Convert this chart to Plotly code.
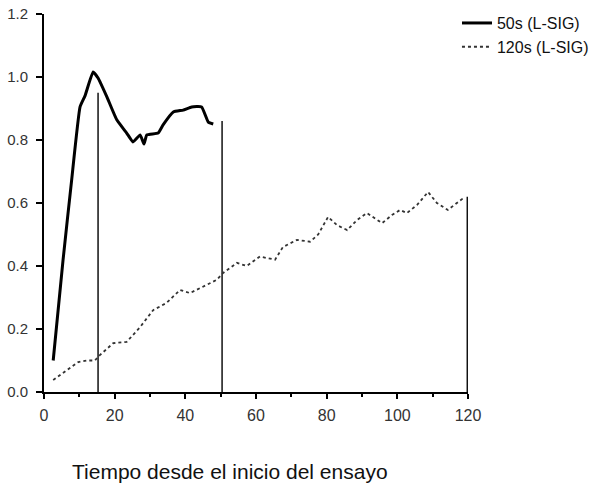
import plotly.graph_objects as go

# 50s (L-SIG) series
t50 = [2.6, 5.4, 7.8, 10.2, 11.6, 13.9, 15.3, 17.8, 20.6, 23.4, 25.2, 27.2, 28.3, 29.1,
       32.3, 33.7, 36.6, 39.4, 41.8, 44.6, 46.5, 47.9]
v50 = [0.10, 0.42, 0.67, 0.905, 0.94, 1.016, 0.997, 0.937, 0.864, 0.822, 0.794, 0.816,
       0.787, 0.816, 0.822, 0.848, 0.889, 0.895, 0.905, 0.905, 0.857, 0.851]

# 120s (L-SIG) series
t120 = [2.6, 6.4, 9.7, 12.1, 14.4, 15.8, 19.6, 23.4, 27.2, 30.9, 34.7, 38.5, 41.3, 44.2,
        48.9, 50.7, 54.6, 57.4, 61.1, 65.4, 67.6, 71.6, 75.3, 77.6, 80.4, 82.9, 85.8,
        88.6, 91.4, 95.7, 98.5, 100.8, 102.7, 105.6, 108.7, 111.2, 114.3, 118.6]
v120 = [0.038, 0.07, 0.095, 0.10, 0.10, 0.117, 0.155, 0.159, 0.206, 0.26, 0.283, 0.324,
        0.314, 0.33, 0.356, 0.378, 0.41, 0.40, 0.43, 0.42, 0.46, 0.483, 0.477, 0.50,
        0.556, 0.53, 0.514, 0.546, 0.568, 0.536, 0.562, 0.578, 0.568, 0.594, 0.635,
        0.60, 0.578, 0.615]

# vertical marker lines
vline_x = [15.3, 50.4, 119.8]
vline_top = [0.95, 0.86, 0.62]

x_ticks = [0, 20, 40, 60, 80, 100, 120]
y_ticks = [0.0, 0.2, 0.4, 0.6, 0.8, 1.0, 1.2]
x_title = "Tiempo desde el inicio del ensayo"

fig = go.Figure()
for xv, top in zip(vline_x, vline_top):
    fig.add_trace(go.Scatter(x=[xv, xv], y=[0, top], mode="lines",
                             line=dict(color="#111", width=1.5), showlegend=False,
                             hoverinfo="skip"))

fig.add_trace(go.Scatter(x=t50, y=v50, mode="lines", name="50s (L-SIG)",
                         line=dict(color="#000", width=3, shape="spline", smoothing=0.4)))
fig.add_trace(go.Scatter(x=t120, y=v120, mode="lines", name="120s (L-SIG)",
                         line=dict(color="#333", width=1.8, dash="dot")))

fig.add_annotation(text=x_title, xref="paper", yref="paper", x=0.4375, y=-0.209,
                   xanchor="center", yanchor="middle", showarrow=False,
                   font=dict(size=21, color="#111"))

fig.update_layout(
    width=589, height=485,
    margin=dict(l=44, r=121, t=14, b=93, autoexpand=False),
    paper_bgcolor="white", plot_bgcolor="white",
    font=dict(family="Liberation Sans, Arial, sans-serif", color="#222", size=12),
    legend=dict(x=0.974, xanchor="left", y=1.021, yanchor="top",
                bgcolor="rgba(0,0,0,0)", font=dict(size=16, color="#111"),
                tracegroupgap=0, itemwidth=30),
    xaxis=dict(range=[0, 120], tickvals=x_ticks, ticktext=[str(v) for v in x_ticks],
               showgrid=False, zeroline=False, showline=True, linecolor="#000",
               linewidth=2, ticks="outside", ticklen=5, tickwidth=1.5, tickcolor="#000",
               minor=dict(dtick=10, ticks="outside", ticklen=3, tickcolor="#000"),
               ticklabelstandoff=3,
               tickfont=dict(size=16, color="#333")),
    yaxis=dict(range=[0, 1.2], tickvals=y_ticks, ticktext=[f"{v:.1f}" for v in y_ticks],
               showgrid=False, zeroline=False, showline=True, linecolor="#000",
               linewidth=2, ticks="outside", ticklen=6, tickwidth=1.5, tickcolor="#000",
               ticklabelstandoff=5,
               tickfont=dict(size=15, color="#333")),
)

fig.write_html("out.html")
